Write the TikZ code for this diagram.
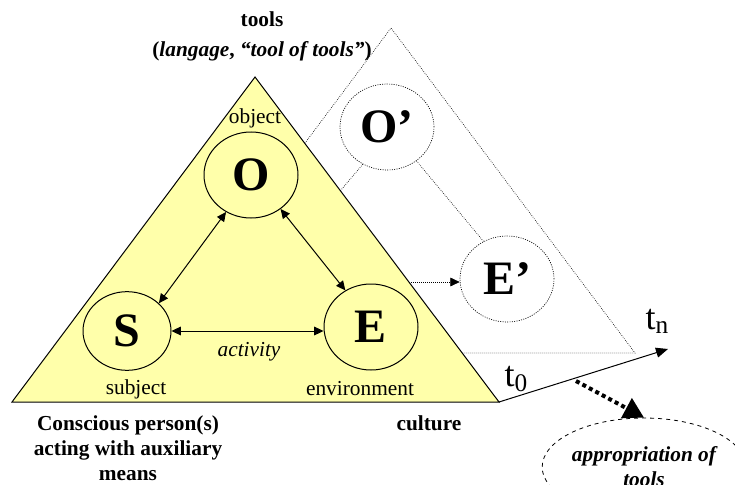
\documentclass[tikz,border=0pt]{standalone}
\usepackage{fontspec}
\setmainfont{Liberation Serif}
\usepackage{xcolor}
\usetikzlibrary{shapes.geometric, arrows.meta, positioning}
\definecolor{triyellow}{RGB}{255,255,170}

\begin{document}
\begin{tikzpicture}[
    x=0.75pt, y=-0.75pt,
    every node/.style={align=center, inner sep=0pt, font=\fontsize{16}{18.75}\selectfont},
    lbl/.style={font=\fontsize{16}{18.75}\selectfont\bfseries},
    agent/.style={draw, ellipse, line width=0.75pt, minimum width=70.5pt, minimum height=64.5pt, font=\fontsize{36}{36}\selectfont\bfseries},
    later/.style={agent, densely dotted, line width=0.5pt},
    link/.style={{Triangle[length=7pt,width=6.5pt]}-{Triangle[length=7pt,width=6.5pt]}, line width=0.75pt},
    dotline/.style={densely dotted, line width=0.5pt},
    tlbl/.style={font=\fontsize{27}{27}\selectfont}
  ]
  \useasboundingbox (0,0) rectangle (735,485);
  \clip (0,0) rectangle (735,485);

  \draw[dotline] (148,353) -- (391,28) -- (635,353) -- cycle;
  \node[later] (Op) at (387,127) {O'};
  \node[later] (Ep) at (507,279) {E'};
  \coordinate (Sp) at (263,282);
  \draw[dotline] (Op.237) -- (Sp);
  \draw[dotline] (Op.311) -- (Ep.122);
  \draw[dotline, -{Triangle[length=7pt,width=6.5pt]}] (Sp) -- (Sp -| Ep.west);

  \draw[fill=triyellow, line width=0.75pt] (12,402) -- (255,77) -- (499,402) -- cycle;

  \node[agent] (O) at (251,175) {O};
  \node[agent, minimum width=66pt, minimum height=59pt] (S) at (127,331) {S};
  \node[agent] (E) at (371,327) {E};
  \draw[link] (O.236) -- (S.41);
  \draw[link] (O.311) -- (E.125);
  \draw[link] (S.east) -- (S.east -| E.west);

  \node (obj) at (255,118) {object};
  \node (subj) at (136,389) {subject};
  \node (env) at (360,389) {environment};
  \node[font=\fontsize{16}{18.75}\selectfont\itshape] (act) at (249,352) {activity};

  \node[lbl] (tools) at (262,19) {tools};
  \node[lbl] (lang) at (262,51) {(\textit{langage}, \textit{``tool of tools''})};
  \node[lbl] (person) at (128,448) {Conscious person(s)\\acting with auxiliary\\means};
  \node[lbl] (culture) at (429,423) {culture};

  \coordinate (t0) at (499,402);
  \coordinate (tn) at (668,349);
  \draw[line width=0.75pt, -{Triangle[length=9pt,width=7.5pt]}] (t0) -- (tn);
  \node[tlbl] (t0lbl) at (516,379) {t\raisebox{-4pt}{\fontsize{19}{19}\selectfont 0}};
  \node[tlbl] (tnlbl) at (657,321) {t\raisebox{-3pt}{\fontsize{19}{19}\selectfont n}};

  \node[draw, ellipse, dashed, line width=0.6pt, minimum width=133.5pt, minimum height=73.5pt,
        font=\fontsize{16}{18.75}\selectfont\bfseries\itshape] (approp) at (644,467) {appropriation of\\tools};
  \coordinate (apstart) at (576,381);
  \draw[line width=3pt, dash pattern=on 3pt off 2.5pt, -{Triangle[length=15pt,width=16.5pt]}] (apstart) -- (approp.north);
\end{tikzpicture}
\end{document}
